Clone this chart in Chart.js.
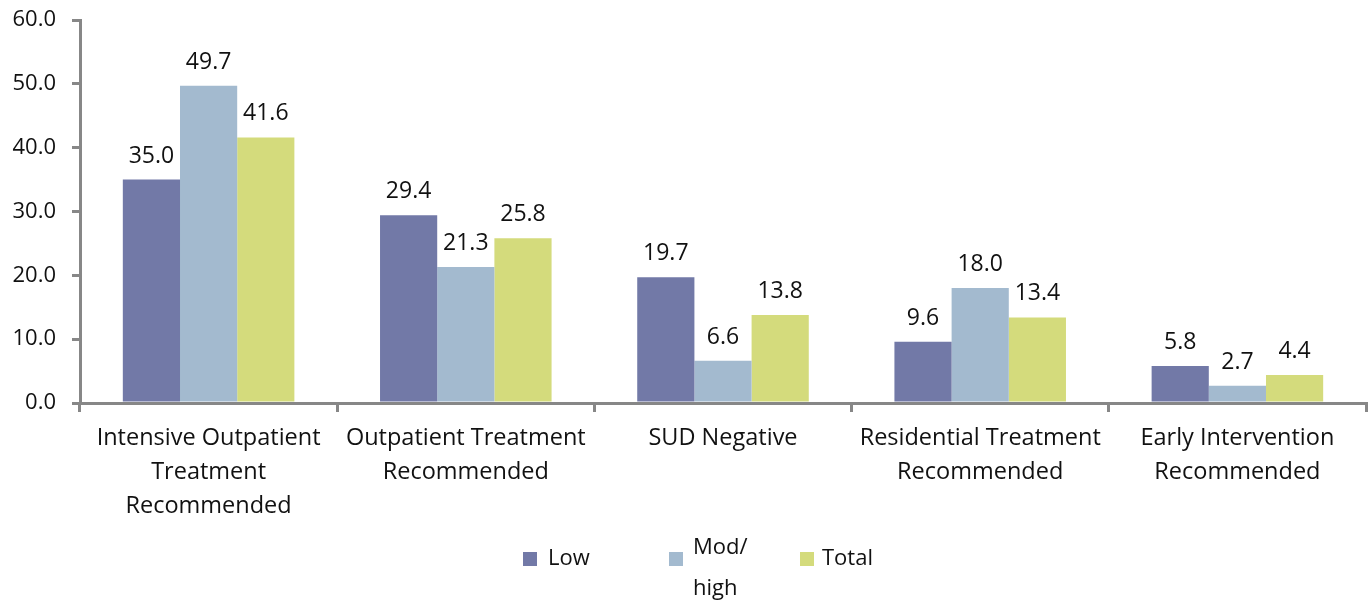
<!DOCTYPE html>
<html>
<head>
<meta charset="utf-8">
<script src="https://cdn.jsdelivr.net/npm/chart.js@4/dist/chart.umd.min.js"></script>
<style>
  html, body { margin: 0; padding: 0; background: #fff; }
  #wrap { width: 1369px; height: 602px; }
</style>
</head>
<body>
<div id="wrap"><canvas id="chart" width="1369" height="602"></canvas></div>
<script>
const categories = [
    ['Intensive Outpatient', 'Treatment', 'Recommended'],
    ['Outpatient Treatment', 'Recommended'],
    ['SUD Negative'],
    ['Residential Treatment', 'Recommended'],
    ['Early Intervention', 'Recommended']
];
const lowValues = [35.0, 29.4, 19.7, 9.6, 5.8];
const modHighValues = [49.7, 21.3, 6.6, 18.0, 2.7];
const totalValues = [41.6, 25.8, 13.8, 13.4, 4.4];
const seriesNames = ['Low', ['Mod/', 'high'], 'Total'];
const yTicks = [0, 10, 20, 30, 40, 50, 60];

const FONT = '"Open Sans", sans-serif';
const AXIS_GRAY = '#878787';
const colors = ['#7279A7', '#A3BACF', '#D4DB7C'];

// value labels above bars
const barLabels = {
    id: 'barLabels',
    afterDatasetsDraw(chart) {
        const ctx = chart.ctx;
        ctx.save();
        ctx.font = '23px ' + FONT;
        ctx.fillStyle = '#111';
        ctx.textAlign = 'center';
        ctx.textBaseline = 'alphabetic';
        chart.data.datasets.forEach((ds, i) => {
            chart.getDatasetMeta(i).data.forEach((bar, j) => {
                ctx.fillText(ds.data[j].toFixed(1), bar.x, bar.y - 17);
            });
        });
        ctx.restore();
    }
};

// legend drawn below the category labels
const bottomLegend = {
    id: 'bottomLegend',
    afterDraw(chart, args, opts) {
        const ctx = chart.ctx;
        ctx.save();
        ctx.font = '22px ' + FONT;
        ctx.textBaseline = 'middle';
        chart.data.datasets.forEach((ds, i) => {
            const x = opts.xs[i];
            ctx.fillStyle = ds.backgroundColor;
            ctx.fillRect(x, opts.y - 7, 14, 14);
            ctx.fillStyle = '#111';
            const name = ds.legendText;
            if (Array.isArray(name)) {
                ctx.fillText(name[0], x + 24, opts.y - 11);
                ctx.fillText(name[1], x + 24, opts.y + 30);
            } else {
                ctx.fillText(name, x + opts.gap[i], opts.y);
            }
        });
        ctx.restore();
    }
};

new Chart(document.getElementById('chart'), {
    type: 'bar',
    data: {
        labels: categories,
        datasets: [
            { label: 'Low', legendText: seriesNames[0], data: lowValues, backgroundColor: colors[0] },
            { label: 'Mod/high', legendText: seriesNames[1], data: modHighValues, backgroundColor: colors[1] },
            { label: 'Total', legendText: seriesNames[2], data: totalValues, backgroundColor: colors[2] }
        ]
    },
    options: {
        responsive: false,
        animation: false,
        layout: { padding: { top: 20, right: 3, left: 0, bottom: 0 } },
        datasets: { bar: { categoryPercentage: 0.667, barPercentage: 1.0 } },
        plugins: {
            legend: { display: false },
            tooltip: { enabled: false },
            bottomLegend: { xs: [523, 669, 800], gap: [25, 24, 22], y: 559 }
        },
        scales: {
            x: {
                offset: true,
                grid: {
                    offset: true,
                    drawOnChartArea: false,
                    drawTicks: true,
                    tickLength: 9,
                    color: AXIS_GRAY,
                    lineWidth: 3
                },
                border: { color: AXIS_GRAY, width: 3 },
                ticks: {
                    color: '#111',
                    font: { family: FONT, size: 23.5, lineHeight: 1.43 },
                    padding: 10,
                    maxRotation: 0,
                    autoSkip: false
                },
                afterFit(scale) {
                    scale.height = 199;
                    scale.paddingLeft = 0;
                    scale.paddingRight = 0;
                }
            },
            y: {
                min: 0,
                max: 60,
                afterBuildTicks(scale) { scale.ticks = yTicks.map(v => ({ value: v })); },
                grid: {
                    drawOnChartArea: false,
                    drawTicks: true,
                    tickLength: 8,
                    color: AXIS_GRAY,
                    lineWidth: 3
                },
                border: { color: AXIS_GRAY, width: 3 },
                ticks: {
                    color: '#111',
                    font: { family: FONT, size: 22 },
                    padding: 16,
                    callback: v => Number(v).toFixed(1)
                },
                afterFit(scale) {
                    scale.width = 80;
                    scale.paddingTop = 0;
                    scale.paddingBottom = 0;
                }
            }
        }
    },
    plugins: [barLabels, bottomLegend]
});
</script>
</body>
</html>
